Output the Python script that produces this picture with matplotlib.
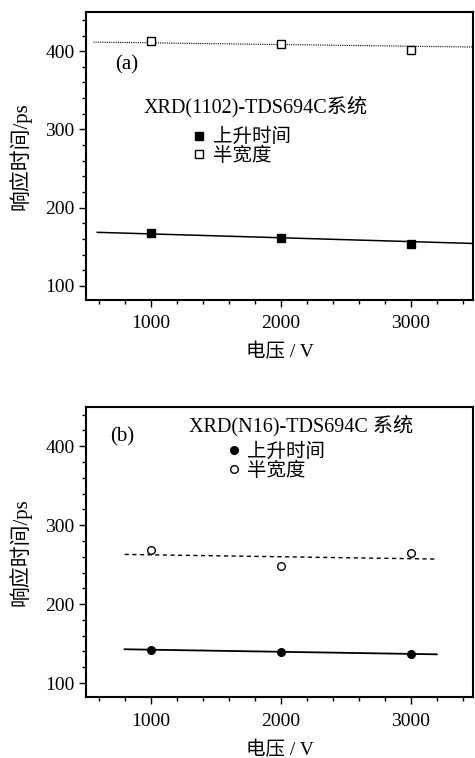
import matplotlib
matplotlib.use("Agg")
import matplotlib.pyplot as plt
from matplotlib.ticker import MultipleLocator

plt.rcParams['font.family'] = ['Liberation Serif', 'Noto Sans CJK SC']

# measured voltages (V)
voltage = [1000, 2000, 3000]

# panel (a): XRD(1102)-TDS694C
rise_a = [168.2, 161.4, 153.3]
width_a = [412.4, 409.0, 402.0]
rise_a_fit_x = [590, 3475]
rise_a_fit_y = [168.5, 154.3]
width_a_fit_x = [560, 3475]
width_a_fit_y = [411.6, 405.3]

# panel (b): XRD(N16)-TDS694C
rise_b = [142.3, 139.8, 136.8]
width_b = [268.3, 248.0, 264.2]
rise_b_fit_x = [800, 3200]
rise_b_fit_y = [142.8, 136.4]
width_b_fit_x = [800, 3200]
width_b_fit_y = [262.9, 257.0]

xlabel = '电压 / V'
ylabel = '响应时间/ps'
legend_labels = ['上升时间', '半宽度']

fig = plt.figure(figsize=(4.75, 7.58), dpi=100)
ax_a = fig.add_axes([0.1802, 0.6042, 0.8147, 0.3799])
ax_b = fig.add_axes([0.1802, 0.0801, 0.8147, 0.3834])


def style_axes(ax):
    ax.set_xlim(500, 3475)
    ax.set_ylim(82, 450)
    ax.xaxis.set_major_locator(MultipleLocator(1000))
    ax.xaxis.set_minor_locator(MultipleLocator(200))
    ax.yaxis.set_major_locator(MultipleLocator(100))
    ax.yaxis.set_minor_locator(MultipleLocator(20))
    ax.tick_params(which='both', direction='out', width=1.0, labelsize=14)
    ax.tick_params(which='major', length=5)
    ax.tick_params(which='minor', length=3)
    ax.tick_params(axis='x', which='major', pad=6)
    ax.tick_params(axis='y', which='major', pad=3)
    ax.tick_params(top=False, right=False)
    for sp in ax.spines.values():
        sp.set_linewidth(1.5)
    ax.set_xlabel(xlabel, fontsize=14, va='center')
    ax.set_ylabel(ylabel, fontsize=15, va='center')
    ax.xaxis.set_label_coords(0.502, -0.18)
    ax.yaxis.set_label_coords(-0.17, 0.5)


# (a)
ax_a.plot(width_a_fit_x, width_a_fit_y, color='black', lw=0.8, ls=(0, (1, 1)))
ax_a.plot(rise_a_fit_x, rise_a_fit_y, color='black', lw=1.1)
h1, = ax_a.plot(voltage, rise_a, 's', color='black', ms=5.5, label=legend_labels[0])
h2, = ax_a.plot(voltage, width_a, 's', mfc='white', mec='black', mew=1.0, ms=5.5,
                label=legend_labels[1])
style_axes(ax_a)
ax_a.text(0.076, 0.817, '(a)', transform=ax_a.transAxes, fontsize=15, va='center')
ax_a.text(0.151, 0.671, 'XRD(1102)-TDS694C系统', transform=ax_a.transAxes,
          fontsize=14.5, va='center')
ax_a.legend(handles=[h1, h2], loc='upper left', bbox_to_anchor=(0.278, 0.597),
            frameon=False, fontsize=14, handlelength=0.6, handletextpad=0.4,
            labelspacing=0.0, borderpad=0, borderaxespad=0)

# (b)
ax_b.plot(width_b_fit_x, width_b_fit_y, color='black', lw=1.0, ls=(0, (3, 2.5)))
ax_b.plot(rise_b_fit_x, rise_b_fit_y, color='black', lw=1.3)
h3, = ax_b.plot(voltage, rise_b, 'o', color='black', ms=5.5, label=legend_labels[0])
h4, = ax_b.plot(voltage, width_b, 'o', mfc='white', mec='black', mew=1.0, ms=5.5,
                label=legend_labels[1])
style_axes(ax_b)
ax_b.text(0.063, 0.895, '(b)', transform=ax_b.transAxes, fontsize=15, va='center')
ax_b.text(0.267, 0.935, 'XRD(N16)-TDS694C 系统', transform=ax_b.transAxes,
          fontsize=14.5, va='center')
ax_b.legend(handles=[h3, h4], loc='upper left', bbox_to_anchor=(0.368, 0.875),
            frameon=False, fontsize=14, handlelength=0.6, handletextpad=0.4,
            labelspacing=0.0, borderpad=0, borderaxespad=0)

fig.savefig('out.png', dpi=100)
